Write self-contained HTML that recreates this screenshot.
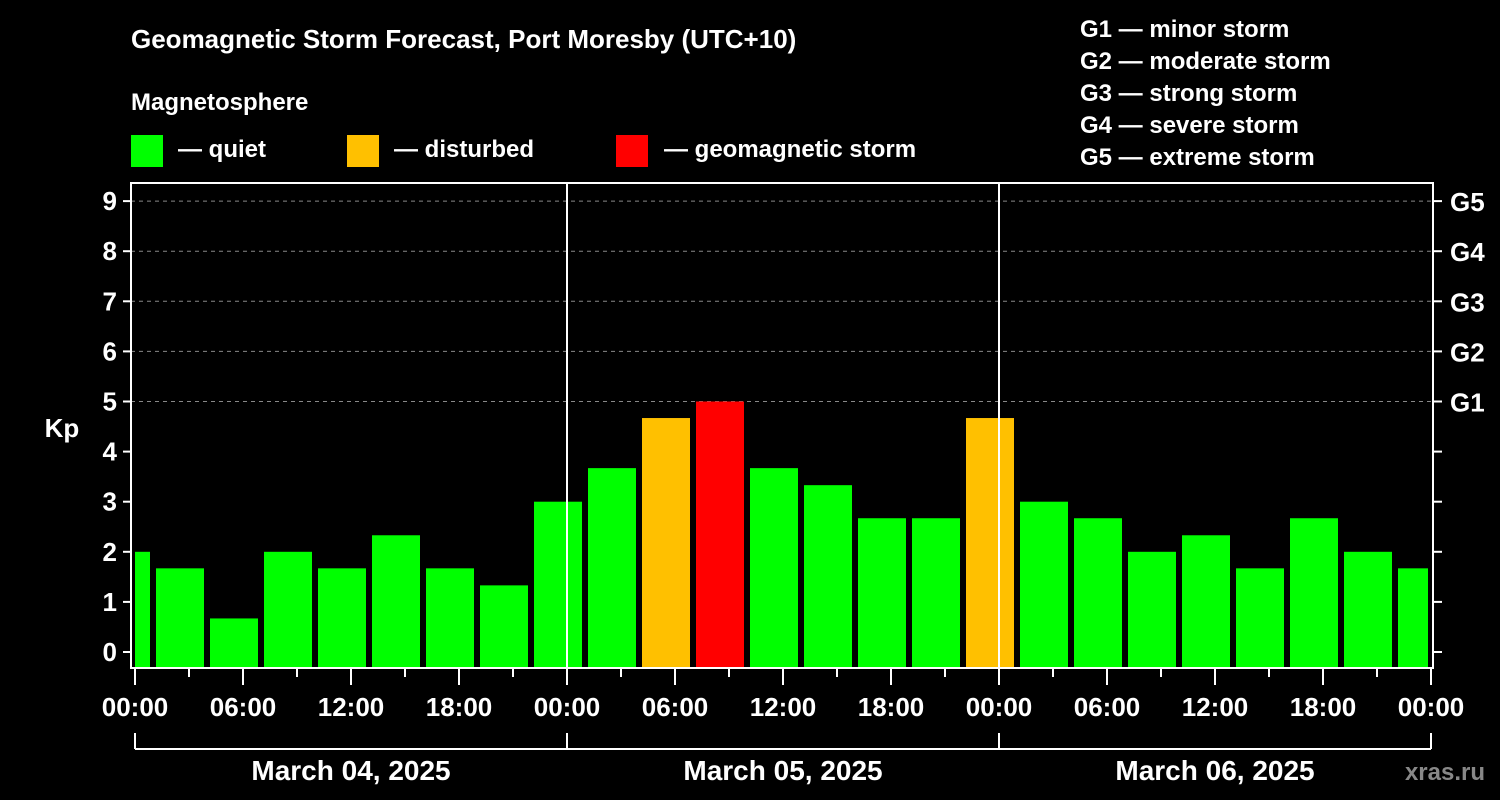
<!DOCTYPE html>
<html><head><meta charset="utf-8"><style>
html,body{margin:0;padding:0;background:#000;}
svg{display:block;font-family:"Liberation Sans",Arial,sans-serif;font-weight:bold;}
</style></head><body>
<svg id="chart" width="1500" height="800" viewBox="0 0 1500 800">
<text x="131" y="48" fill="#fff" font-size="26">Geomagnetic Storm Forecast, Port Moresby (UTC+10)</text>
<text x="131" y="110" fill="#fff" font-size="24">Magnetosphere</text>
<g><rect x="131" y="135" width="32" height="32" fill="#00ff00"/><text x="178" y="157" fill="#fff" font-size="24">— quiet</text></g>
<g><rect x="347" y="135" width="32" height="32" fill="#ffc000"/><text x="394" y="157" fill="#fff" font-size="24">— disturbed</text></g>
<g><rect x="616" y="135" width="32" height="32" fill="#ff0000"/><text x="664" y="157" fill="#fff" font-size="24">— geomagnetic storm</text></g>
<g fill="#fff" font-size="24">
<text x="1080" y="37">G1 — minor storm</text>
<text x="1080" y="69">G2 — moderate storm</text>
<text x="1080" y="101">G3 — strong storm</text>
<text x="1080" y="133">G4 — severe storm</text>
<text x="1080" y="165">G5 — extreme storm</text>
</g>
<text x="62" y="437" fill="#fff" font-size="26" text-anchor="middle">Kp</text>
<text x="1485" y="780" fill="#888" font-size="24" text-anchor="end">xras.ru</text>
<g id="plot"></g>
</svg>
<script>
const kpValues=[2,1.67,0.67,2,1.67,2.33,1.67,1.33,3,3.67,4.67,5,3.67,3.33,2.67,2.67,4.67,3,2.67,2,2.33,1.67,2.67,2,1.67];
const yTicks=[0,1,2,3,4,5,6,7,8,9];
const gLabels=["G1","G2","G3","G4","G5"];
const xTickLabels=["00:00","06:00","12:00","18:00","00:00","06:00","12:00","18:00","00:00","06:00","12:00","18:00","00:00"];
const dateLabels=["March 04, 2025","March 05, 2025","March 06, 2025"];
const NS="http://www.w3.org/2000/svg";
const g=document.getElementById('plot');
const L=131,R=1433,T=183,B=668;
const y=v=>652-50.1*v;
const x=h=>135+18*h;
function mk(t,a,txt){const e=document.createElementNS(NS,t);for(const k in a)e.setAttribute(k,a[k]);if(txt!==undefined)e.textContent=txt;g.appendChild(e);return e;}
// grid
for(let v=5;v<=9;v++){const e=mk('line',{x1:L,x2:R,y1:y(v),y2:y(v),stroke:'#888','stroke-dasharray':'4,4','stroke-width':1});

}
// bars
kpValues.forEach((v,k)=>{const c=3*k-0.5;let x0=x(c)-24,x1=x(c)+24;x0=Math.max(x0,x(0));x1=Math.min(x1,x(72)-3);
const col=v>=5?'#ff0000':(v>=4?'#ffc000':'#00ff00');
const e=mk('rect',{x:x0,y:y(v),width:x1-x0,height:B-y(v),fill:col});

});
// day separators
[1,2].forEach(d=>{const e=mk('line',{x1:x(24*d),x2:x(24*d),y1:T,y2:B,stroke:'#fff','stroke-width':2});

});
// frame
const f=mk('rect',{x:L,y:T,width:R-L,height:B-T,fill:'none',stroke:'#fff','stroke-width':2});


// y ticks
yTicks.forEach(v=>{mk('line',{x1:123,x2:L,y1:y(v),y2:y(v),stroke:'#fff','stroke-width':2});
mk('line',{x1:R,x2:1442,y1:y(v),y2:y(v),stroke:'#fff','stroke-width':2});
const t=mk('text',{x:117,y:y(v)+9,fill:'#fff','font-size':26,'text-anchor':'end'},String(v));

});
gLabels.forEach((s,i)=>{const t=mk('text',{x:1450,y:y(5+i)+10,fill:'#fff','font-size':26},s);

});
// x ticks
for(let h=0;h<=72;h+=3){const long=h%6===0;mk('line',{x1:x(h),x2:x(h),y1:B,y2:long?685:677,stroke:'#fff','stroke-width':2});}
xTickLabels.forEach((s,i)=>{const t=mk('text',{x:x(6*i),y:716,fill:'#fff','font-size':26,'text-anchor':'middle'},s);

});
// date bracket
mk('line',{x1:x(0),x2:x(72),y1:749,y2:749,stroke:'#fff','stroke-width':2});
[0,24,48,72].forEach(h=>mk('line',{x1:x(h),x2:x(h),y1:733,y2:749,stroke:'#fff','stroke-width':2}));
dateLabels.forEach((s,i)=>{const t=mk('text',{x:x(24*i+12),y:780,fill:'#fff','font-size':28,'text-anchor':'middle'},s);

});
</script>
</body></html>
